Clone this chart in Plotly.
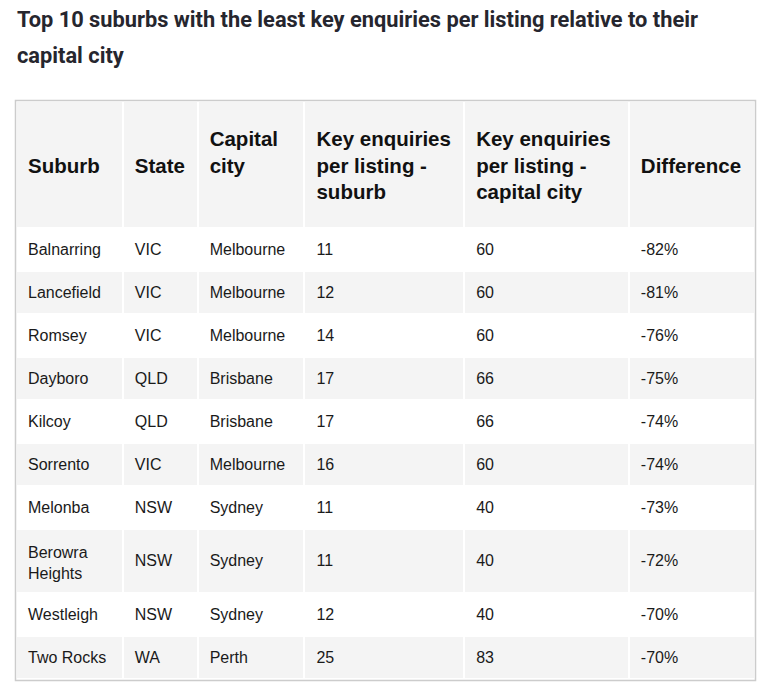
import plotly.graph_objects as go

suburbs = ["Balnarring", "Lancefield", "Romsey", "Dayboro", "Kilcoy", "Sorrento",
           "Melonba", "Berowra<br>Heights", "Westleigh", "Two Rocks"]
states = ["VIC", "VIC", "VIC", "QLD", "QLD", "VIC", "NSW", "NSW", "NSW", "WA"]
capitals = ["Melbourne", "Melbourne", "Melbourne", "Brisbane", "Brisbane", "Melbourne",
            "Sydney", "Sydney", "Sydney", "Perth"]
ke_suburb = [11, 12, 14, 17, 17, 16, 11, 11, 12, 25]
ke_capital = [60, 60, 60, 66, 66, 60, 40, 40, 40, 83]
difference = [-82, -81, -76, -75, -74, -74, -73, -72, -70, -70]

headers = ["\u00a0<br><b>Suburb</b>", "\u00a0<br><b>State</b>", "<b>Capital</b><br><b>city</b>",
           "<b>Key enquiries</b><br><b>per listing -</b><br><b>suburb</b>",
           "<b>Key enquiries</b><br><b>per listing -</b><br><b>capital city</b>",
           "\u00a0<br><b>Difference</b>"]
col_widths = [107, 75, 107, 160, 165, 126, 0.4]

# figure geometry (page body has an 8px margin)
Wf, Hf = 755, 720
OFF = 8


def fx(px):
    return (px - OFF) / Wf


def fy(px):
    return 1 - (px - OFF) / Hf


n = len(suburbs)
tall = ["<br>" in s for s in suburbs]
row_fill = ["#ffffff" if i % 2 == 0 else "#f4f4f4" for i in range(n)]
# invisible spacer column: sets the height of the two-line row
spacer = ["\u00a0<br>\u00a0<br>\u00a0<br>\u00a0" if t else "\u00a0" for t in tall]
columns = [suburbs, states, capitals, [str(v) for v in ke_suburb],
           [str(v) for v in ke_capital], [f"{d}%" for d in difference]]
FONT = "Liberation Sans, Arial, sans-serif"
CLEAR = "rgba(0,0,0,0)"
x0, x1 = 16, 755
blank_col = [""] * n


def table(dx, dy, head_vals, head_color, head_fill, cell_cols, cell_color, cell_fill, line):
    return go.Table(
        columnwidth=col_widths,
        domain=dict(x=[fx(x0 + dx), fx(x1 + dx)], y=[0, fy(101 + dy)]),
        header=dict(values=head_vals + [""], fill_color=head_fill,
                    line=dict(color=line, width=2), align="left", height=127,
                    font=dict(family=FONT, size=19, color=head_color)),
        cells=dict(values=cell_cols + [spacer], fill_color=cell_fill,
                   line=dict(color=line, width=2), align="left", height=43,
                   font=dict(family=FONT, size=[16] * 6 + [9.6],
                             color=[cell_color] * 6 + [CLEAR])),
    )


# A: fills and white grid lines
tA = table(0, 0, [""] * 6, CLEAR, "#f4f4f4", [blank_col] * 6, CLEAR,
           [row_fill] * 7, "#ffffff")
# B: body text (single-line rows and wrapped suburb names)
body_main = [columns[0]] + [[v if not t else "" for v, t in zip(c, tall)] for c in columns[1:]]
tB = table(4, 7, [""] * 6, CLEAR, CLEAR, body_main, "#1a1a1a", CLEAR, CLEAR)
# D: remaining cells of the two-line row, centred against the wrapped name
body_tall = [blank_col] + [[v if t else "" for v, t in zip(c, tall)] for c in columns[1:]]
tD = table(4, 17, [""] * 6, CLEAR, CLEAR, body_tall, "#1a1a1a", CLEAR, CLEAR)
# C: header text
tC = go.Table(
    columnwidth=col_widths,
    domain=dict(x=[fx(x0 + 4), fx(x1 + 4)], y=[0, fy(101 + 18)]),
    header=dict(values=headers + [""], fill_color=CLEAR,
                line=dict(color=CLEAR, width=2), align="left", height=127,
                font=dict(family=FONT, size=20.5, color="#111111")),
    cells=dict(values=[[""]] * 7, fill_color=CLEAR,
               line=dict(color=CLEAR, width=2), align="left", height=43,
               font=dict(family=FONT, size=16, color=CLEAR)),
)

fig = go.Figure([tA, tB, tD, tC])

fig.add_shape(type="rect", xref="paper", yref="paper",
              x0=fx(15.5), x1=fx(755.5), y0=fy(680.5), y1=fy(100.5),
              line=dict(color="#cccccc", width=1.5), fillcolor=CLEAR)

title_lines = ["Top 10 suburbs with the least key enquiries per listing relative to their",
               "capital city"]
for line, top in zip(title_lines, [5, 41]):
    fig.add_annotation(text=f"<b>{line}</b>", xref="paper", yref="paper",
                       x=fx(15), y=fy(top), xanchor="left", yanchor="top",
                       align="left", showarrow=False,
                       font=dict(family="Roboto, sans-serif", size=21.8, color="#26262e"))

fig.update_layout(width=Wf, height=Hf, margin=dict(l=0, r=0, t=0, b=0),
                  paper_bgcolor="white", plot_bgcolor="white")

fig.write_html("out.html")
